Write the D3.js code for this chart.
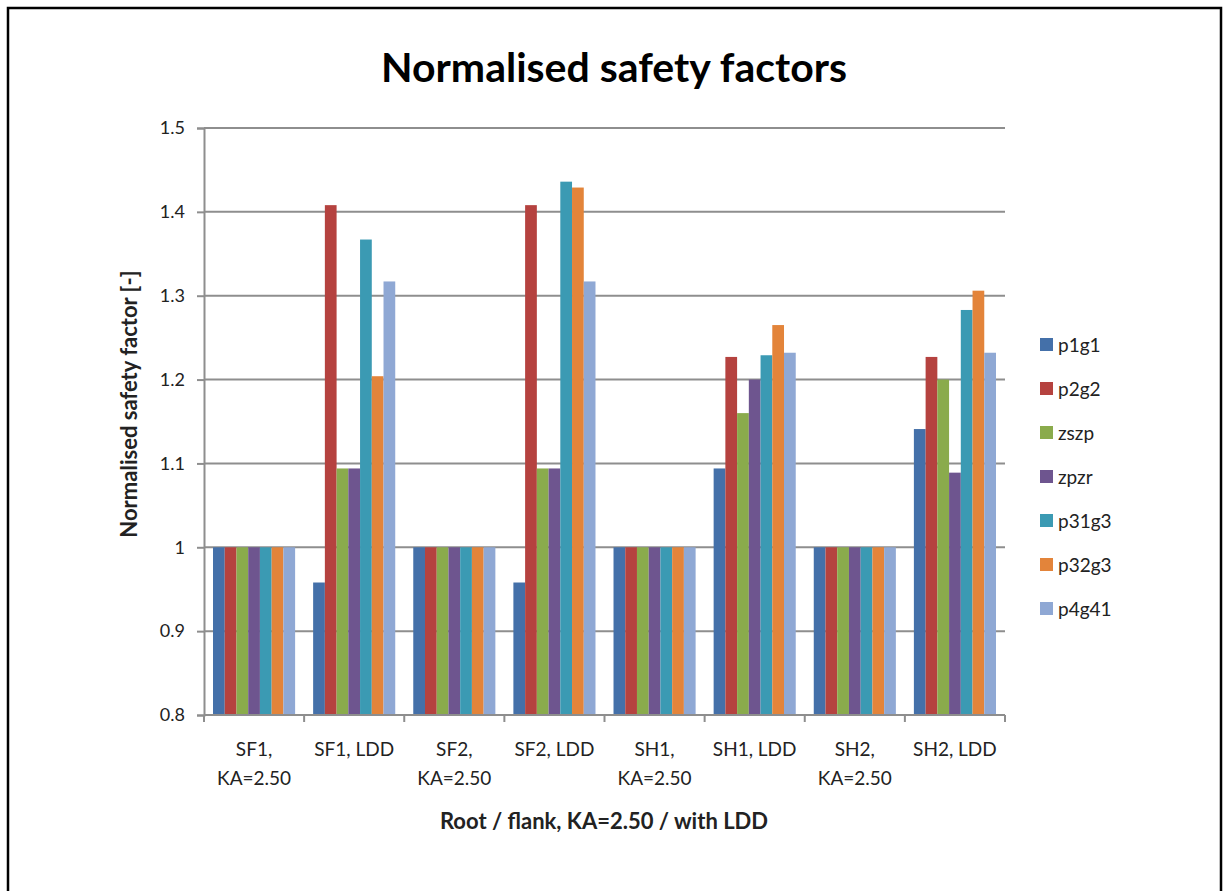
<!DOCTYPE html>
<html>
<head>
<meta charset="utf-8">
<script src="https://cdn.jsdelivr.net/npm/d3@7"></script>
<style>
  html, body { margin: 0; padding: 0; background: #fff; }
  svg { display: block; }
</style>
</head>
<body>
<svg id="chart" width="1228" height="891"></svg>
<script>
// Categories along the x axis (two-line labels)
const categories = [
  ["SF1,", "KA=2.50"], ["SF1, LDD"], ["SF2,", "KA=2.50"], ["SF2, LDD"],
  ["SH1,", "KA=2.50"], ["SH1, LDD"], ["SH2,", "KA=2.50"], ["SH2, LDD"]
];
const seriesNames = ["p1g1", "p2g2", "zszp", "zpzr", "p31g3", "p32g3", "p4g41"];
const seriesColors = ["#4470a9", "#b5423f", "#8aab4c", "#6e558f", "#3b9ab3", "#e3843a", "#8fa8d4"];

// Values per series, one entry per category
const p1g1  = [1, 0.958, 1, 0.958, 1, 1.094, 1, 1.141];
const p2g2  = [1, 1.408, 1, 1.408, 1, 1.227, 1, 1.227];
const zszp  = [1, 1.094, 1, 1.094, 1, 1.160, 1, 1.200];
const zpzr  = [1, 1.094, 1, 1.094, 1, 1.200, 1, 1.089];
const p31g3 = [1, 1.367, 1, 1.436, 1, 1.229, 1, 1.283];
const p32g3 = [1, 1.204, 1, 1.429, 1, 1.265, 1, 1.306];
const p4g41 = [1, 1.317, 1, 1.317, 1, 1.232, 1, 1.232];
const seriesValues = [p1g1, p2g2, zszp, zpzr, p31g3, p32g3, p4g41];

const yTicks = [0.8, 0.9, 1, 1.1, 1.2, 1.3, 1.4, 1.5];

const svg = d3.select("#chart");
const font = "Lato, 'Open Sans', sans-serif";

// Outer frame
svg.append("rect")
  .attr("x", 8).attr("y", 8).attr("width", 1213).attr("height", 900)
  .attr("fill", "none").attr("stroke", "#000").attr("stroke-width", 2.5);

const plot = { left: 204, right: 1005, top: 128, bottom: 715 };

const x0 = d3.scaleBand()
  .domain(d3.range(categories.length))
  .range([plot.left, plot.right])
  .paddingInner(0.18).paddingOuter(0.09);
const x1 = d3.scaleBand()
  .domain(d3.range(seriesNames.length))
  .range([0, x0.bandwidth()]);
const y = d3.scaleLinear().domain([0.8, 1.5]).range([plot.bottom, plot.top]);

// Horizontal gridlines
svg.append("g").selectAll("line")
  .data(yTicks.filter(t => t > 0.8))
  .join("line")
  .attr("x1", plot.left).attr("x2", plot.right)
  .attr("y1", d => y(d)).attr("y2", d => y(d))
  .attr("stroke", "#8e8e8e").attr("stroke-width", 2);

// Bars
const groups = svg.append("g").selectAll("g")
  .data(categories.map((c, i) => i))
  .join("g")
  .attr("transform", i => `translate(${x0(i)},0)`);
groups.selectAll("rect")
  .data(i => seriesValues.map((vals, s) => ({ s, v: vals[i] })))
  .join("rect")
  .attr("x", d => x1(d.s))
  .attr("width", x1.bandwidth())
  .attr("y", d => y(d.v))
  .attr("height", d => plot.bottom - y(d.v))
  .attr("fill", d => seriesColors[d.s]);

// Y axis
const yAxis = d3.axisLeft(y).tickValues(yTicks).tickSize(7).tickPadding(12)
  .tickFormat(d => d === 1 ? "1" : d3.format(".1f")(d));
const gy = svg.append("g").attr("transform", `translate(${plot.left},0)`).call(yAxis);
gy.select(".domain").attr("stroke", "#8e8e8e").attr("stroke-width", 2);
gy.selectAll(".tick line").attr("stroke", "#8e8e8e").attr("stroke-width", 2);
gy.selectAll(".tick text").attr("font-family", font).attr("font-size", 18).attr("fill", "#222");

// X axis with tick marks at category boundaries
const step = (plot.right - plot.left) / categories.length;
svg.append("line")
  .attr("x1", plot.left).attr("x2", plot.right)
  .attr("y1", plot.bottom).attr("y2", plot.bottom)
  .attr("stroke", "#8e8e8e").attr("stroke-width", 2);
svg.append("g").selectAll("line")
  .data(d3.range(categories.length + 1))
  .join("line")
  .attr("x1", i => plot.left + i * step).attr("x2", i => plot.left + i * step)
  .attr("y1", plot.bottom).attr("y2", plot.bottom + 7)
  .attr("stroke", "#8e8e8e").attr("stroke-width", 2);

// Category labels
const xl = svg.append("g").selectAll("text")
  .data(categories)
  .join("text")
  .attr("x", (c, i) => x0(i) + x0.bandwidth() / 2)
  .attr("y", 756)
  .attr("text-anchor", "middle")
  .attr("font-family", font).attr("font-size", 19).attr("fill", "#222");
xl.selectAll("tspan")
  .data(c => c)
  .join("tspan")
  .attr("x", function () { return this.parentNode.getAttribute("x"); })
  .attr("dy", (d, j) => j === 0 ? 0 : 29)
  .text(d => d);

// Title
svg.append("text")
  .attr("x", 614).attr("y", 82)
  .attr("text-anchor", "middle")
  .attr("font-family", font).attr("font-weight", "bold").attr("font-size", 41)
  .attr("fill", "#000")
  .text("Normalised safety factors");

// Axis titles
svg.append("text")
  .attr("x", 604).attr("y", 829)
  .attr("text-anchor", "middle")
  .attr("font-family", font).attr("font-weight", "bold").attr("font-size", 22)
  .attr("fill", "#222")
  .text("Root / flank, KA=2.50 / with LDD");
svg.append("text")
  .attr("transform", "translate(137,404) rotate(-90)")
  .attr("text-anchor", "middle")
  .attr("font-family", font).attr("font-weight", "bold").attr("font-size", 22)
  .attr("fill", "#222")
  .text("Normalised safety factor [-]");

// Legend
const legend = svg.append("g").selectAll("g")
  .data(seriesNames)
  .join("g")
  .attr("transform", (d, i) => `translate(1040,${345 + i * 44})`);
legend.append("rect")
  .attr("x", 0).attr("y", -7).attr("width", 13).attr("height", 13)
  .attr("fill", (d, i) => seriesColors[i]);
legend.append("text")
  .attr("x", 18).attr("y", 7)
  .attr("font-family", font).attr("font-size", 19).attr("fill", "#222")
  .text(d => d);
</script>
</body>
</html>
